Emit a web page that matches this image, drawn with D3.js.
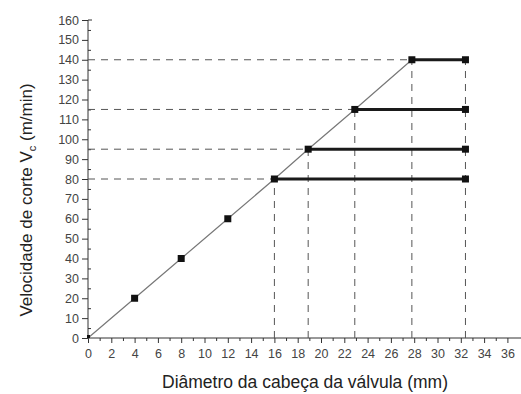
<!DOCTYPE html>
<html>
<head>
<meta charset="utf-8">
<script src="https://cdn.jsdelivr.net/npm/d3@7"></script>
<style>
body { margin: 0; background: #fff; }
svg { display: block; font-family: "Liberation Sans", Arial, sans-serif; }
.axis text { font-size: 12.5px; fill: #444; }
.axis line, .axis path { stroke: #333; }
</style>
</head>
<body>
<svg width="521" height="394"></svg>
<script>
// diagonal: diameter vs cutting speed
var diam = [0, 4, 8, 12, 16, 18.9, 22.9, 27.8];
var speed = [0, 20, 40, 60, 80, 95, 115, 140];
// horizontal levels
var levelDiam = [16, 18.9, 22.9, 27.8];
var levelSpeed = [80, 95, 115, 140];
var endDiam = 32.4;
var xTicks = d3.range(0, 37, 2);
var yTicks = d3.range(0, 161, 10);

var svg = d3.select('svg');
var x = d3.scaleLinear().domain([0, 36]).range([88, 507.4]);
var y = d3.scaleLinear().domain([0, 160]).range([338, 20]);

// axes
var gx = svg.append('g').attr('class', 'axis').attr('transform', 'translate(0,' + y(0) + ')');
gx.call(d3.axisBottom(x).tickValues(xTicks).tickSize(5).tickPadding(6));
gx.select('.domain').remove();
gx.append('g').call(d3.axisBottom(x).tickValues(d3.range(1, 37, 2)).tickSize(3).tickFormat(''))
  .select('.domain').remove();
gx.append('line').attr('x1', x(0)).attr('x2', 521).attr('stroke', '#333');

var gy = svg.append('g').attr('class', 'axis').attr('transform', 'translate(' + x(0) + ',0)');
gy.call(d3.axisLeft(y).tickValues(yTicks).tickSize(6).tickPadding(3));
gy.select('.domain').remove();
gy.append('g').call(d3.axisRight(y).tickValues(d3.range(5, 160, 10)).tickSize(3).tickFormat(''))
  .select('.domain').remove();
gy.append('line').attr('y1', y(0)).attr('y2', y(160)).attr('stroke', '#333');
gy.append('line').attr('x1', 0).attr('x2', 4).attr('y1', y(160)).attr('y2', y(160)).attr('stroke', '#333');

// dashed guides
var guides = svg.append('g').attr('stroke', '#555').attr('stroke-width', 1).attr('stroke-dasharray', '7,6');
guides.selectAll('line.h').data(levelSpeed).enter().append('line')
  .attr('x1', x(0)).attr('x2', function(d, i) { return x(levelDiam[i]); })
  .attr('y1', function(d) { return y(d); }).attr('y2', function(d) { return y(d); });
guides.selectAll('line.v').data(levelDiam).enter().append('line')
  .attr('x1', function(d) { return x(d); }).attr('x2', function(d) { return x(d); })
  .attr('y1', y(0)).attr('y2', function(d, i) { return y(levelSpeed[i]); });
guides.append('line')
  .attr('x1', x(endDiam)).attr('x2', x(endDiam))
  .attr('y1', y(0)).attr('y2', y(d3.max(levelSpeed)));

// diagonal line
var pts = diam.map(function(d, i) { return [d, speed[i]]; });
svg.append('path')
  .attr('d', d3.line().x(function(d) { return x(d[0]); }).y(function(d) { return y(d[1]); })(pts))
  .attr('fill', 'none').attr('stroke', '#777').attr('stroke-width', 1.2);

// thick horizontal lines
svg.selectAll('line.lvl').data(levelSpeed).enter().append('line')
  .attr('x1', function(d, i) { return x(levelDiam[i]); }).attr('x2', x(endDiam))
  .attr('y1', function(d) { return y(d); }).attr('y2', function(d) { return y(d); })
  .attr('stroke', '#1a1a1a').attr('stroke-width', 3);

// markers
var marks = pts.slice(1).concat(levelSpeed.map(function(s) { return [endDiam, s]; }));
svg.selectAll('rect.m').data(marks).enter().append('rect')
  .attr('x', function(d) { return x(d[0]) - 3.5; })
  .attr('y', function(d) { return y(d[1]) - 3.5; })
  .attr('width', 7).attr('height', 7).attr('fill', '#111');
svg.append('rect').attr('x', x(0) - 1).attr('y', y(0) - 3).attr('width', 3).attr('height', 3).attr('fill', '#111');

// titles
svg.append('text').attr('x', 305).attr('y', 388).attr('text-anchor', 'middle')
  .attr('font-size', 17.5).attr('fill', '#222').text('Diâmetro da cabeça da válvula (mm)');
var yt = svg.append('text').attr('transform', 'translate(32,200) rotate(-90)')
  .attr('text-anchor', 'middle').attr('font-size', 17).attr('fill', '#222');
yt.append('tspan').text('Velocidade de corte V');
yt.append('tspan').attr('font-size', 11).attr('dy', 4).text('c');
yt.append('tspan').attr('dy', -4).text(' (m/min)');
</script>
</body>
</html>
